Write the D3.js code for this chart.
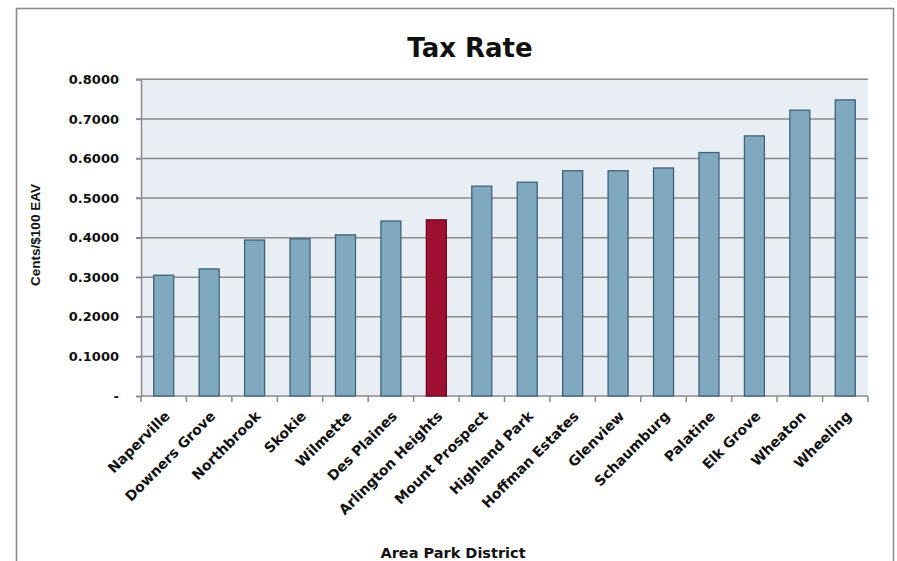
<!DOCTYPE html>
<html>
<head>
<meta charset="utf-8">
<script src="https://cdn.jsdelivr.net/npm/d3@7"></script>
<style>
  body { margin: 0; background: #fff; }
  svg { display: block; font-family: "DejaVu Sans", sans-serif; font-weight: bold; }
</style>
</head>
<body>
<svg id="chart" width="897" height="561"></svg>
<script>
// Park district tax rates (cents per $100 of equalized assessed value)
const districts = ["Naperville", "Downers Grove", "Northbrook", "Skokie", "Wilmette", "Des Plaines",
  "Arlington Heights", "Mount Prospect", "Highland Park", "Hoffman Estates", "Glenview",
  "Schaumburg", "Palatine", "Elk Grove", "Wheaton", "Wheeling"];
const rates = [0.305, 0.321, 0.394, 0.397, 0.407, 0.442, 0.445, 0.530, 0.540, 0.569, 0.569,
  0.576, 0.615, 0.657, 0.722, 0.748];
const highlighted = ["Arlington Heights"];
const yTicks = [0, 0.1, 0.2, 0.3, 0.4, 0.5, 0.6, 0.7, 0.8];

const svg = d3.select("#chart");
const plot = { left: 141, right: 868, top: 79.3, bottom: 396 };

// Outer chart frame
svg.append("rect")
  .attr("x", 16.5).attr("y", 8.5).attr("width", 877).attr("height", 570)
  .attr("fill", "#fff").attr("stroke", "#8c8c8c").attr("stroke-width", 1.6);

const x = d3.scaleBand().domain(districts).range([plot.left, plot.right])
  .paddingInner(0.56).paddingOuter(0.28);
const y = d3.scaleLinear().domain([0, 0.8]).range([plot.bottom, plot.top]);

// Plot background
svg.append("rect")
  .attr("x", plot.left).attr("y", plot.top)
  .attr("width", plot.right - plot.left).attr("height", plot.bottom - plot.top)
  .attr("fill", "#e9edf4");

// Horizontal gridlines
svg.append("g").selectAll("line").data(yTicks.slice(1)).join("line")
  .attr("x1", plot.left - 5).attr("x2", plot.right)
  .attr("y1", d => y(d)).attr("y2", d => y(d))
  .attr("stroke", "#8a8a8a").attr("stroke-width", 1.5);

// Y axis
const yAxis = d3.axisLeft(y).tickValues(yTicks).tickSize(5).tickPadding(17)
  .tickFormat(d => d === 0 ? "-" : d3.format(".4f")(d));
const gy = svg.append("g").attr("transform", `translate(${plot.left},0)`).call(yAxis);
gy.select(".domain").attr("stroke", "#8a8a8a").attr("stroke-width", 1.5);
gy.selectAll(".tick line").attr("stroke", "#8a8a8a").attr("stroke-width", 1.5);
gy.selectAll(".tick text").attr("font-size", 13).attr("font-weight", "bold")
  .attr("font-family", "DejaVu Sans, sans-serif").attr("fill", "#111");

// X axis with ticks at category boundaries
const boundaries = d3.range(districts.length + 1).map(i => plot.left + i * (plot.right - plot.left) / districts.length);
svg.append("line")
  .attr("x1", plot.left).attr("x2", plot.right)
  .attr("y1", plot.bottom).attr("y2", plot.bottom)
  .attr("stroke", "#8a8a8a").attr("stroke-width", 1.5);
svg.append("g").selectAll("line").data(boundaries).join("line")
  .attr("x1", d => d).attr("x2", d => d)
  .attr("y1", plot.bottom).attr("y2", plot.bottom + 6)
  .attr("stroke", "#8a8a8a").attr("stroke-width", 1.5);

// Bars
svg.append("g").selectAll("rect").data(districts).join("rect")
  .attr("x", d => x(d)).attr("width", x.bandwidth())
  .attr("y", (d, i) => y(rates[i]))
  .attr("height", (d, i) => y(0) - y(rates[i]))
  .attr("fill", d => highlighted.includes(d) ? "#9e1031" : "#80a9c0")
  .attr("stroke", d => highlighted.includes(d) ? "#6a0a20" : "#3d6278")
  .attr("stroke-width", 1.3);

// Category labels, rotated
svg.append("g").selectAll("text").data(districts).join("text")
  .attr("transform", d => `translate(${x(d) + x.bandwidth() / 2 + 7},${plot.bottom + 21}) rotate(-45)`)
  .attr("text-anchor", "end")
  .attr("font-size", 14).attr("fill", "#111")
  .text(d => d);

// Title
svg.append("text").attr("x", 470).attr("y", 57)
  .attr("text-anchor", "middle").attr("font-size", 26).attr("fill", "#111")
  .text("Tax Rate");

// Axis titles
svg.append("text")
  .attr("transform", `translate(40,235) rotate(-90)`)
  .attr("text-anchor", "middle").attr("font-size", 13.5).attr("fill", "#111")
  .attr("font-family", "Liberation Sans, Arial, sans-serif").attr("font-weight", "bold")
  .text("Cents/$100 EAV");
svg.append("text").attr("x", 453).attr("y", 558)
  .attr("text-anchor", "middle").attr("font-size", 14.5).attr("fill", "#111")
  .text("Area Park District");
</script>
</body>
</html>
